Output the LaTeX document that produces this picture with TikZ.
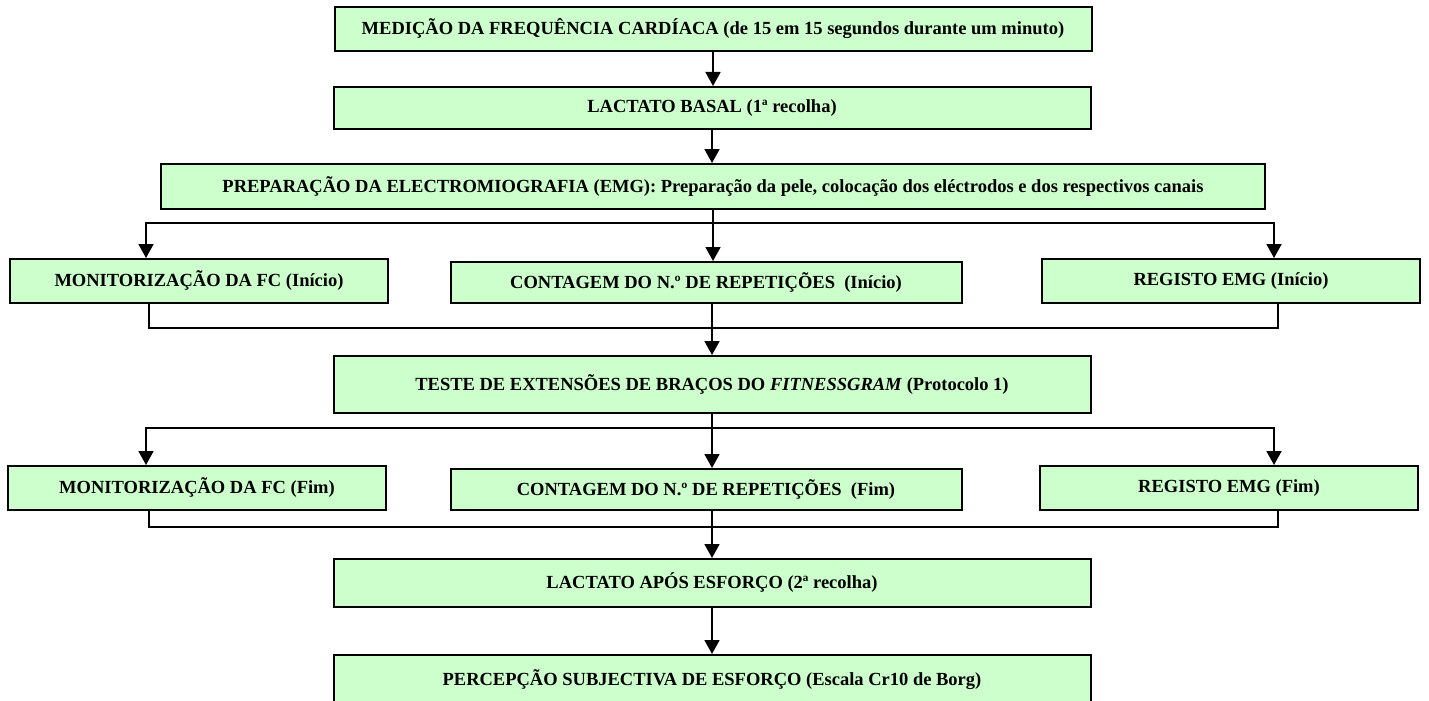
\documentclass[tikz,border=0pt]{standalone}
\usepackage{fontspec}
\setmainfont{Liberation Serif}
\usetikzlibrary{arrows.meta}
\definecolor{boxgreen}{HTML}{CCFFCC}
\begin{document}
\begin{tikzpicture}[x=1pt,y=-1pt,
  stepbox/.style={draw=black, line width=2pt, fill=boxgreen, inner sep=0pt,
    font=\fontsize{18.5}{22}\selectfont\bfseries},
  mainbox/.style={stepbox, minimum width=757pt},
  sidebox/.style={stepbox, minimum width=378pt, minimum height=44pt},
  midbox/.style={stepbox, minimum width=511pt, minimum height=41pt},
  flow/.style={line width=1.8pt, -{Triangle[width=15pt,length=14pt]}},
  link/.style={line width=1.8pt}
]
\useasboundingbox (0,0) rectangle (1429,701);
\begin{scope}
\clip (0,0) rectangle (1429,701);

% main column
\node[mainbox, minimum height=44pt] (b1) at (713,29)
  {MEDIÇÃO DA FREQUÊNCIA CARDÍACA (de 15 em 15 segundos durante um minuto)};
\node[mainbox, minimum height=42pt] (b2) at (712,108)
  {LACTATO BASAL (1ª recolha)};
\node[stepbox, minimum width=1104pt, minimum height=45pt] (b3) at (713,186.5)
  {PREPARAÇÃO DA ELECTROMIOGRAFIA (EMG): Preparação da pele, colocação dos eléctrodos e dos respectivos canais};

% first row of parallel tasks
\node[sidebox] (m1) at (199,281) {MONITORIZAÇÃO DA FC (Início)};
\node[midbox] (c1) at (706,282.5) {CONTAGEM DO N.º DE REPETIÇÕES\ \ (Início)};
\node[sidebox] (r1) at (1231,281) {REGISTO EMG (Início)};

\node[mainbox, minimum height=57pt] (t) at (712,384.5)
  {TESTE DE EXTENSÕES DE BRAÇOS DO \textit{FITNESSGRAM} (Protocolo 1)};

% second row of parallel tasks
\node[sidebox] (m2) at (197,488) {MONITORIZAÇÃO DA FC (Fim)};
\node[midbox] (c2) at (706,489.5) {CONTAGEM DO N.º DE REPETIÇÕES\ \ (Fim)};
\node[sidebox] (r2) at (1229,488) {REGISTO EMG (Fim)};

\node[mainbox, minimum height=48pt] (l) at (712,583)
  {LACTATO APÓS ESFORÇO (2ª recolha)};
\node[mainbox, minimum height=50pt] (p) at (712,680)
  {PERCEPÇÃO SUBJECTIVA DE ESFORÇO (Escala Cr10 de Borg)};

% split and join points
\coordinate (sL1) at (146,223);
\coordinate (sR1) at (1274,223);
\coordinate (jL1) at (149,328);
\coordinate (jR1) at (1278,328);
\coordinate (sL2) at (146,428);
\coordinate (sR2) at (1274,428);
\coordinate (jL2) at (149,527);
\coordinate (jR2) at (1278,527);

% connectors
\draw[flow] (b1.south) -- (b1.south |- b2.north);
\draw[flow] (b2.south) -- (b2.south |- b3.north);

\draw[flow] (b3.south) -- (b3.south |- c1.north);
\draw[flow] (b3.south |- sL1) -- (sL1) -- (sL1 |- m1.north);
\draw[flow] (b3.south |- sR1) -- (sR1) -- (sR1 |- r1.north);
\draw[link] (jL1 |- m1.south) -- (jL1) -- (jR1) -- (jR1 |- r1.south);
\draw[flow] (t.north |- c1.south) -- (t.north);

\draw[flow] (t.south) -- (t.south |- c2.north);
\draw[flow] (t.south |- sL2) -- (sL2) -- (sL2 |- m2.north);
\draw[flow] (t.south |- sR2) -- (sR2) -- (sR2 |- r2.north);
\draw[link] (jL2 |- m2.south) -- (jL2) -- (jR2) -- (jR2 |- r2.south);
\draw[flow] (l.north |- c2.south) -- (l.north);

\draw[flow] (l.south) -- (p.north);
\end{scope}
\end{tikzpicture}
\end{document}
